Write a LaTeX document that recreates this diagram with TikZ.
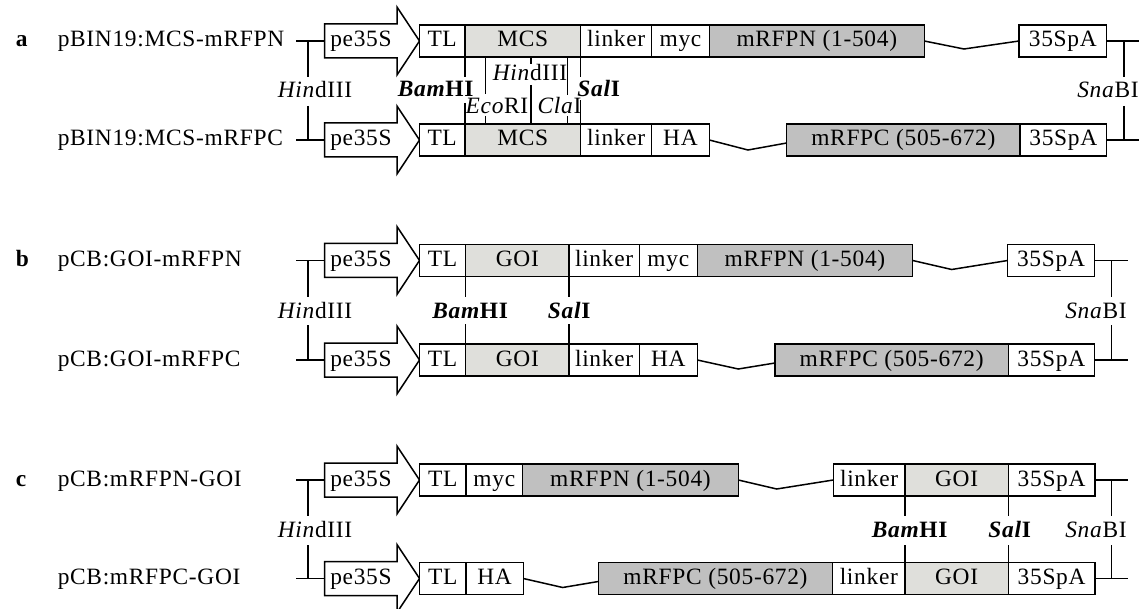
\documentclass[tikz,border=0pt]{standalone}
\usepackage{fontspec}
\setmainfont{Liberation Serif}[LetterSpace=3]
\usetikzlibrary{calc}
\definecolor{lg}{RGB}{223,223,219}
\definecolor{dg}{RGB}{192,192,192}
\newcommand\blk[6]{\node[blk,fill=#5,minimum width={(#3-#2)*1bp}] (#1) at (#2,#4) {#6};}
\newcommand\prom[2]{%
  \draw[promo] (324.5,#2-17) -- (397,#2-17) -- (397,#2-34) -- (419.5,#2) -- (397,#2+34) -- (397,#2+17) -- (324.5,#2+17) -- cycle;
  \node[txt] (#1) at (361,#2) {pe35S};}
\begin{document}
\begin{tikzpicture}[x=1bp,y=-1bp,line width=1.5bp,
  font=\fontsize{23.5}{26}\selectfont,
  blk/.style={draw,rectangle,inner sep=0pt,outer sep=0pt,minimum height=32bp,anchor=west,text height=16bp,text depth=4bp},
  txt/.style={inner sep=0pt,text height=16bp,text depth=4bp},
  promo/.style={draw,fill=white,line join=miter},
  lab/.style={inner sep=0pt,anchor=west,text height=16bp,text depth=4bp}]
\useasboundingbox (0,0) rectangle (1143,609);

% ===================== block a =====================
\def\ya{41}\def\yb{140}
\node[lab,font=\fontsize{23.5}{26}\selectfont\bfseries] (la) at (15,\ya) {a};
\node[lab] (na1) at (57,\ya) {pBIN19:MCS-mRFPN};
\node[lab] (na2) at (57,\yb) {pBIN19:MCS-mRFPC};
\prom{pa1}{\ya}
\prom{pa2}{\yb}
\blk{tla1}{419.3}{465}{\ya}{white}{TL}
\blk{mcsa1}{465}{580.7}{\ya}{lg}{MCS}
\blk{lka1}{580.7}{651.7}{\ya}{white}{linker}
\blk{myca1}{651.7}{709.3}{\ya}{white}{myc}
\blk{rfpa1}{709.3}{924.3}{\ya}{dg}{mRFPN (1-504)}
\blk{paa1}{1019}{1106.7}{\ya}{white}{35SpA}
\coordinate (za1) at (964,\ya+8);
\draw (rfpa1.east) -- (za1) -- (paa1.west);
\blk{tla2}{419.3}{465}{\yb}{white}{TL}
\blk{mcsa2}{465}{580.7}{\yb}{lg}{MCS}
\blk{lka2}{580.7}{651.7}{\yb}{white}{linker}
\blk{haa2}{651.7}{709.3}{\yb}{white}{HA}
\blk{rfpa2}{786.7}{1020}{\yb}{dg}{mRFPC (505-672)}
\blk{paa2}{1020}{1106.7}{\yb}{white}{35SpA}
\coordinate (za2) at (748,\yb+10);
\draw (haa2.east) -- (za2) -- ([yshift=-3bp]rfpa2.west);
% left HindIII
\coordinate (sa1) at (296,\ya); \coordinate (ea1) at (324.5,\ya);
\coordinate (sa2) at (296,\yb); \coordinate (ea2) at (324.5,\yb);
\draw (sa1) -- (ea1); \draw (sa2) -- (ea2);
\node[txt] (ha) at (315,92) {\textit{Hin}dIII};
\coordinate (ha1) at (308,\ya); \coordinate (ha2) at (308,\yb);
\draw (ha1) -- (308,77); \draw (308,106) -- (ha2);
% right SnaBI
\coordinate (ra1) at (1139,\ya); \coordinate (ra2) at (1139,\yb);
\draw (paa1.east) -- (ra1); \draw (paa2.east) -- (ra2);
\node[txt] (sna) at (1108,92) {\textit{Sna}BI};
\draw (1124,\ya) -- (1124,77); \draw (1124,106) -- (1124,\yb);
% MCS sites
\node[txt] (bama) at (436,91) {\textbf{\textit{Bam}HI}};
\node[txt] (sala) at (599,91) {\textbf{\textit{Sal}I}};
\node[txt] (ecoa) at (497,108) {\textit{Eco}RI};
\node[txt] (hina) at (530,75) {\textit{Hin}dIII};
\node[txt] (claa) at (559.5,108) {\textit{Cla}I};
\draw (465,\ya+16) -- (465,77); \draw (465,103) -- (465,\yb-16);
\draw (485.7,\ya+16) -- (485.7,94); \draw (485.7,116) -- (485.7,\yb-16);
\draw (531,\ya+16) -- (531,64); \draw (531,85) -- (531,\yb-16);
\draw (567.3,\ya+16) -- (567.3,95); \draw (567.3,116) -- (567.3,\yb-16);
\draw (580.7,\ya+16) -- (580.7,77); \draw (580.7,100) -- (580.7,\yb-16);

% ===================== block b =====================
\def\ya{260.5}\def\yb{360}
\node[lab,font=\fontsize{23.5}{26}\selectfont\bfseries] (lb) at (15,\ya) {b};
\node[lab] (nb1) at (57,\ya) {pCB:GOI-mRFPN};
\node[lab] (nb2) at (57,\yb) {pCB:GOI-mRFPC};
\prom{pb1}{\ya}
\prom{pb2}{\yb}
\blk{tlb1}{419.5}{465.7}{\ya}{white}{TL}
\blk{goib1}{465.7}{569}{\ya}{lg}{GOI}
\blk{lkb1}{569}{639.3}{\ya}{white}{linker}
\blk{mycb1}{639.3}{697.3}{\ya}{white}{myc}
\blk{rfpb1}{697.3}{912.7}{\ya}{dg}{mRFPN (1-504)}
\blk{pab1}{1007.7}{1094.3}{\ya}{white}{35SpA}
\coordinate (zb1) at (951.7,\ya+9);
\draw (rfpb1.east) -- (zb1) -- (pab1.west);
\blk{tlb2}{419.5}{465.7}{\yb}{white}{TL}
\blk{goib2}{465.7}{569}{\yb}{lg}{GOI}
\blk{lkb2}{569}{639.3}{\yb}{white}{linker}
\blk{hab2}{639.3}{697.3}{\yb}{white}{HA}
\blk{rfpb2}{775}{1008.3}{\yb}{dg}{mRFPC (505-672)}
\blk{pab2}{1008.3}{1094.3}{\yb}{white}{35SpA}
\coordinate (zb2) at (738.3,\yb+9);
\draw (hab2.east) -- (zb2) -- ([yshift=-3bp]rfpb2.west);
\coordinate (sb1) at (296,\ya); \coordinate (eb1) at (324.5,\ya);
\coordinate (sb2) at (296,\yb); \coordinate (eb2) at (324.5,\yb);
\draw (sb1) -- (eb1); \draw (sb2) -- (eb2);
\node[txt] (hb) at (315,312.5) {\textit{Hin}dIII};
\draw (308,\ya) -- (308,297); \draw (308,325) -- (308,\yb);
\coordinate (rb1) at (1128,\ya); \coordinate (rb2) at (1128,\yb);
\draw (pab1.east) -- (rb1); \draw (pab2.east) -- (rb2);
\node[txt] (snb) at (1096,312.5) {\textit{Sna}BI};
\draw (1111.7,\ya) -- (1111.7,297); \draw (1111.7,325) -- (1111.7,\yb);
\node[txt] (bamb) at (470.5,312.5) {\textbf{\textit{Bam}HI}};
\node[txt] (salb) at (569.5,312.5) {\textbf{\textit{Sal}I}};
\draw (465.7,\ya+16) -- (465.7,297); \draw (465.7,324) -- (465.7,\yb-16);
\draw (569,\ya+16) -- (569,297); \draw (569,324) -- (569,\yb-16);

% ===================== block c =====================
\def\ya{480}\def\yb{578.5}
\node[lab,font=\fontsize{23.5}{26}\selectfont\bfseries] (lc) at (15,\ya) {c};
\node[lab] (nc1) at (57,\ya) {pCB:mRFPN-GOI};
\node[lab] (nc2) at (57,\yb) {pCB:mRFPC-GOI};
\prom{pc1}{\ya}
\prom{pc2}{\yb}
\blk{tlc1}{419.5}{466}{\ya}{white}{TL}
\blk{mycc1}{466}{522.7}{\ya}{white}{myc}
\blk{rfpc1}{522.7}{738.3}{\ya}{dg}{mRFPN (1-504)}
\blk{lkc1}{833.3}{905}{\ya}{white}{linker}
\blk{goic1}{905}{1008.3}{\ya}{lg}{GOI}
\blk{pac1}{1008.3}{1095}{\ya}{white}{35SpA}
\coordinate (zc1) at (776.7,\ya+9);
\draw (rfpc1.east) -- (zc1) -- (lkc1.west);
\blk{tlc2}{419.5}{466}{\yb}{white}{TL}
\blk{hac2}{466}{523.3}{\yb}{white}{HA}
\blk{rfpc2}{598.3}{832.7}{\yb}{dg}{mRFPC (505-672)}
\blk{lkc2}{832.7}{905}{\yb}{white}{linker}
\blk{goic2}{905}{1008.3}{\yb}{lg}{GOI}
\blk{pac2}{1008.3}{1095}{\yb}{white}{35SpA}
\coordinate (zc2) at (562.7,\yb+9);
\draw (hac2.east) -- (zc2) -- ([yshift=-3bp]rfpc2.west);
\coordinate (sc1) at (296,\ya); \coordinate (ec1) at (324.5,\ya);
\coordinate (sc2) at (296,\yb); \coordinate (ec2) at (324.5,\yb);
\draw (sc1) -- (ec1); \draw (sc2) -- (ec2);
\node[txt] (hc) at (315,531.5) {\textit{Hin}dIII};
\draw (308,\ya) -- (308,516); \draw (308,545) -- (308,\yb);
\coordinate (rc1) at (1128,\ya); \coordinate (rc2) at (1128,\yb);
\draw (pac1.east) -- (rc1); \draw (pac2.east) -- (rc2);
\node[txt] (snc) at (1096,531.5) {\textit{Sna}BI};
\draw (1111.7,\ya) -- (1111.7,516); \draw (1111.7,545) -- (1111.7,\yb);
\node[txt] (bamc) at (910,531.5) {\textbf{\textit{Bam}HI}};
\node[txt] (salc) at (1010,531.5) {\textbf{\textit{Sal}I}};
\draw (905,\ya+16) -- (905,516); \draw (905,545) -- (905,\yb-16);
\draw (1008.3,\ya+16) -- (1008.3,516); \draw (1008.3,545) -- (1008.3,\yb-16);
\end{tikzpicture}
\end{document}
